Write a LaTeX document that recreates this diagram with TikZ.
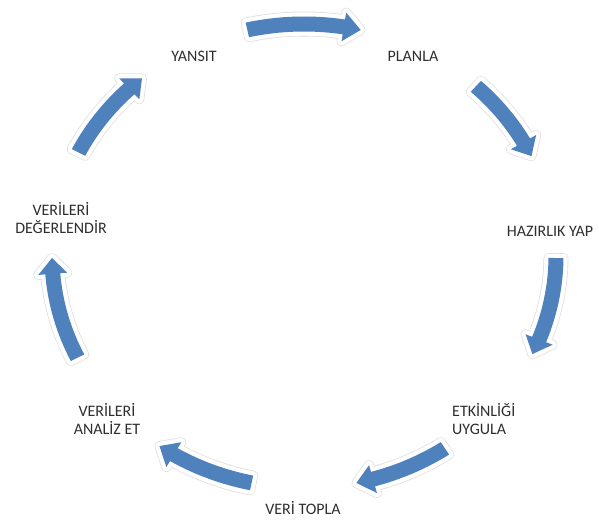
\documentclass[tikz,border=0pt]{standalone}
\usepackage{fontspec}
\setmainfont{Carlito}
\definecolor{arrowblue}{HTML}{4F81BD}
\definecolor{labelgray}{HTML}{2E2E2E}
\tikzset{
  cyclearrow/.style={fill=arrowblue,
    preaction={draw=black!12, line width=10pt, line join=round},
    preaction={draw=white, line width=8.4pt, line join=round}},
  lbl/.style={font=\fontsize{16}{18}\selectfont, text=labelgray, inner sep=0pt}
}
% #1 tail angle, #2 tip angle (parametric on ellipse, clockwise)
\newcommand\cycarrow[2]{%
  \pgfmathsetmacro\tbase{#2+3.9}%
  \path[cyclearrow]
    (#1:259.5pt and 239.5pt)
      arc[start angle=#1, end angle=\tbase, x radius=259.5pt, y radius=239.5pt]
    -- (\tbase:266.5pt and 246.5pt)
    -- (#2:252pt and 232pt)
    -- (\tbase:237.5pt and 217.5pt)
    -- (\tbase:244.5pt and 224.5pt)
      arc[start angle=\tbase, end angle=#1, x radius=244.5pt, y radius=224.5pt]
    -- cycle;}
\begin{document}
\begin{tikzpicture}[x=1pt,y=1pt]
  \useasboundingbox (0,0) rectangle (599,519);
  \clip (0,0) rectangle (599,519);
  \begin{scope}[shift={(304,263)}]
    \cycarrow{103}{77}
    \cycarrow{47}{25.5}
    \cycarrow{-0.5}{-25}
    \cycarrow{-56}{-78}
    \cycarrow{258}{235}
    \cycarrow{206}{180.5}
    \cycarrow{153.5}{130}
  \end{scope}
  \node[lbl] (yansit) at (194,463) {YANSIT};
  \node[lbl] (planla) at (413,463) {PLANLA};
  \node[lbl] (hazirlik) at (550,288) {HAZIRLIK YAP};
  \node[lbl, align=left, anchor=west] (etkinlik) at (452,100) {ETKİNLİĞİ\\UYGULA};
  \node[lbl, anchor=base] (veritopla) at (303,4.5) {VERİ TOPLA};
  \node[lbl, align=center] (analiz) at (107,100) {VERİLERİ\\ANALİZ ET};
  \node[lbl, align=center] (degerlendir) at (61,301) {VERİLERİ\\DEĞERLENDİR};
\end{tikzpicture}
\end{document}
